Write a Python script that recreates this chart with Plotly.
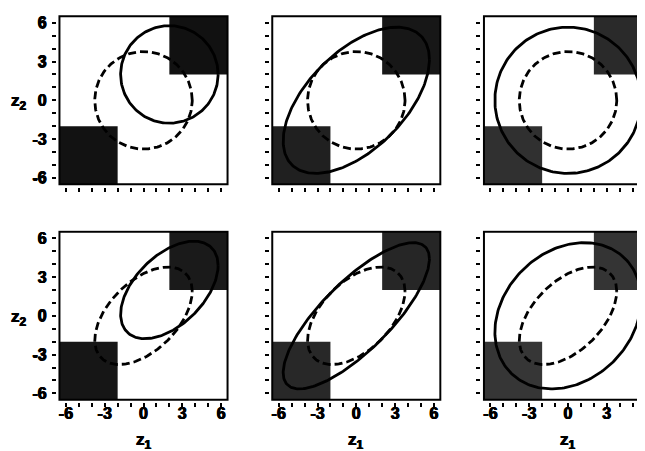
import numpy as np
import plotly.graph_objects as go

# ---------------- data ----------------
panel_row = [1, 1, 1, 2, 2, 2]
panel_col = [1, 2, 3, 1, 2, 3]

# dashed (reference) contour parameters
ref_mean_x = [0, 0, 0, 0, 0, 0]
ref_mean_y = [0, 0, 0, 0, 0, 0]
ref_sigma = [1.0, 1.0, 1.0, 1.0, 1.0, 1.0]
ref_rho = [0.0, 0.0, 0.0, 0.5, 0.5, 0.5]

# solid (changed) contour parameters
alt_mean_x = [2, 0, 0, 2, 0, 0]
alt_mean_y = [2, 0, 0, 2, 0, 0]
alt_sigma = [1.0, 1.5, 1.5, 1.0, 1.5, 1.5]
alt_rho = [0.0, 0.556, 0.0, 0.5, 0.778, 0.222]

contour_radius = 3.77

# shaded corner regions (lower-left / upper-right)
corner_lo = [-6.5, -2.0]
corner_hi = [2.0, 6.5]
shade_lower = ["#121212", "#202020", "#303030", "#161616", "#282828", "#363636"]
shade_upper = ["#111111", "#171717", "#2a2a2a", "#1a1a1a", "#262626", "#343434"]

tick_vals = [-6, -3, 0, 3, 6]
tick_text = ["-6", "-3", "0", "3", "6"]
x_title = "<b>z<sub>1</sub></b>"
y_title = "<b>z<sub>2</sub></b>"

# ---------------- layout geometry ----------------
W, H = 645, 451
scale = 12.93
lo = -6.5 - 2.5 / scale
hi = 6.62
col_zero_px = [135.5, 348.3, 560.0]
row_zero_px = [92.3, 307.8]

FONT = "Liberation Sans"
THICK = "0.5px 0 0 black, -0.5px 0 0 black, 0 0.4px 0 black"

fig = go.Figure()


def ellipse(mx, my, s, rho, r):
    t = np.linspace(0, 2 * np.pi, 241)
    x = mx + r * s * np.cos(t)
    y = my + r * s * (rho * np.cos(t) + np.sqrt(1 - rho ** 2) * np.sin(t))
    return x, y


layout = dict(
    width=W, height=H,
    margin=dict(l=0, r=0, t=0, b=0),
    paper_bgcolor="white", plot_bgcolor="white",
    showlegend=False,
)
shapes = []
annotations = []
bold_ticks = ["<b>%s</b>" % t for t in tick_text]

for i in range(6):
    r, c = panel_row[i], panel_col[i]
    ax = "" if i == 0 else str(i + 1)
    xref, yref = "x" + ax, "y" + ax

    zx = col_zero_px[c - 1]
    left_px = zx + lo * scale
    right_px = min(zx + hi * scale, W)
    xhi = (right_px - zx) / scale

    zy = row_zero_px[r - 1]
    bottom_px = zy - lo * scale
    top_px = max(zy - hi * scale, 0)
    yhi = (zy - top_px) / scale

    common = dict(
        showgrid=False, zeroline=False, showline=False,
        ticks="outside", ticklen=4, tickwidth=2, tickcolor="black",
        tickmode="array", tickvals=tick_vals, ticktext=bold_ticks,
        minor=dict(ticks="outside", ticklen=4, tickwidth=2, tickcolor="black",
                   dtick=1, tick0=0),
        tickfont=dict(family=FONT, size=16, color="black", shadow=THICK),
        fixedrange=True, ticklabeloverflow="allow",
    )
    layout["xaxis" + ax] = dict(
        common, domain=[left_px / W, right_px / W], range=[lo, xhi],
        anchor=yref, showticklabels=(r == 2), ticklabelstandoff=-8,
    )
    layout["yaxis" + ax] = dict(
        common, domain=[1 - bottom_px / H, 1 - top_px / H], range=[lo, yhi],
        anchor=xref, showticklabels=(c == 1), ticklabelstandoff=2,
    )

    # shaded corners
    shapes.append(dict(type="rect", xref=xref, yref=yref, layer="below",
                       x0=corner_lo[0], x1=corner_lo[1], y0=corner_lo[0], y1=corner_lo[1],
                       fillcolor=shade_lower[i], line=dict(width=0)))
    shapes.append(dict(type="rect", xref=xref, yref=yref, layer="below",
                       x0=corner_hi[0], x1=corner_hi[1], y0=corner_hi[0], y1=corner_hi[1],
                       fillcolor=shade_upper[i], line=dict(width=0)))
    # frame
    shapes.append(dict(type="rect", xref=xref, yref=yref, layer="above",
                       x0=-6.5, x1=6.5, y0=-6.5, y1=6.5,
                       fillcolor="rgba(0,0,0,0)", line=dict(color="black", width=2)))

    ex, ey = ellipse(ref_mean_x[i], ref_mean_y[i], ref_sigma[i], ref_rho[i], contour_radius)
    fig.add_trace(go.Scatter(x=ex, y=ey, mode="lines", xaxis=xref, yaxis=yref,
                             line=dict(color="black", width=2.8, dash="8px,4px"),
                             hoverinfo="skip"))
    ex, ey = ellipse(alt_mean_x[i], alt_mean_y[i], alt_sigma[i], alt_rho[i], contour_radius)
    fig.add_trace(go.Scatter(x=ex, y=ey, mode="lines", xaxis=xref, yaxis=yref,
                             line=dict(color="black", width=2.8),
                             hoverinfo="skip"))

    if r == 2:
        annotations.append(dict(xref="paper", yref="paper", x=zx / W, y=1 - 433 / H,
                                text=x_title, showarrow=False,
                                font=dict(family=FONT, size=17, color="black", shadow=THICK),
                                xanchor="center", yanchor="middle"))
    if c == 1:
        annotations.append(dict(xref="paper", yref="paper", x=11 / W, y=1 - (zy + 2) / H,
                                text=y_title, showarrow=False,
                                font=dict(family=FONT, size=17, color="black", shadow=THICK),
                                xanchor="center", yanchor="middle"))

layout["shapes"] = shapes
layout["annotations"] = annotations
fig.update_layout(**layout)
fig.write_html("out.html")
